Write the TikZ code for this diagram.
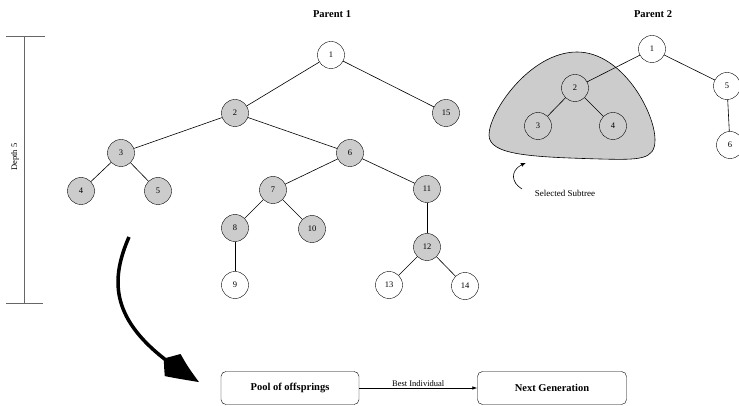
\documentclass[tikz,border=0pt]{standalone}
\usepackage{fontspec}
\setmainfont{Liberation Serif}
\usetikzlibrary{arrows.meta,bending}
\begin{document}
\begin{tikzpicture}[
		x=1pt, y=-1pt,
		vertex/.style={
			draw,
			circle,
			inner sep=0pt,
			minimum size=27pt,
			font=\fontsize{8.5}{10}\selectfont,
			fill=white
		},
		picked/.style={vertex, fill=black!20},
		inblob/.style={vertex, fill=none},
		box/.style={
			draw,
			rounded corners=5pt,
			align=center,
			minimum height=33pt,
			font=\fontsize{10.5}{13}\selectfont\bfseries,
			fill=white
		},
		edge/.style={draw, line width=0.6pt},
		title/.style={font=\fontsize{10.5}{12}\selectfont\bfseries}
		]
		
		\useasboundingbox (0,0) rectangle (739,406);
		
		% Titles
		\node[title] (t1) at (332,14) {Parent 1};
		\node[title] (t2) at (653,14) {Parent 2};
		
		% Depth bar
		\coordinate (dtop) at (24,36);
		\coordinate (dbot) at (24,303);
		\draw[black!60, line width=0.8pt] (6,36) -- (45,36);
		\draw[black!60, line width=0.8pt] (6,303) -- (43,303);
		\draw[black!60, line width=0.8pt] (dtop) -- (dbot);
		\node[rotate=90, font=\fontsize{8.5}{10}\selectfont] (depth) at (15,157) {Depth 5};
		
		% Parent 1 tree
		\node[vertex] (a1) at (331,55) {1};
		\node[picked] (a2) at (235,113) {2};
		\node[picked] (a15) at (446,113) {15};
		\node[picked] (a3) at (121,153) {3};
		\node[picked] (a6) at (350,153) {6};
		\node[picked] (a4) at (81,191) {4};
		\node[picked] (a5) at (158,191) {5};
		\node[picked] (a7) at (273,190) {7};
		\node[picked] (a11) at (427,189) {11};
		\node[picked] (a8) at (235,228) {8};
		\node[picked] (a10) at (312,229) {10};
		\node[picked] (a12) at (427,247) {12};
		\node[vertex] (a9) at (235,285) {9};
		\node[vertex] (a13) at (389,285) {13};
		\node[vertex] (a14) at (465,286) {14};
		
		\foreach \p/\c in {a1/a2, a1/a15, a2/a3, a2/a6, a3/a4, a3/a5,
			a6/a7, a6/a11, a7/a8, a7/a10, a8/a9, a11/a12, a12/a13, a12/a14}
			\draw[edge] (\p) -- (\c);
		
		% Selected subtree blob
		\draw[fill=black!20, line width=0.6pt] (577,52)
			.. controls (530,52) and (489,112) .. (489,135)
			.. controls (489,155) and (530,157) .. (600,159)
			.. controls (640,160) and (655,160) .. (655,140)
			.. controls (655,112) and (622,52) .. (577,52) -- cycle;
		
		% Parent 2 tree
		\node[vertex] (b1) at (652,49) {1};
		\node[inblob] (b2) at (575,88) {2};
		\node[vertex] (b5) at (727,86) {5};
		\node[inblob] (b3) at (538,126) {3};
		\node[inblob] (b4) at (613,126) {4};
		\node[vertex] (b6) at (730,145) {6};
		
		\foreach \p/\c in {b1/b2, b1/b5, b5/b6, b2/b3, b2/b4}
			\draw[edge] (\p) -- (\c);
		
		% Subtree label
		\node[font=\fontsize{9}{11}\selectfont] (sel) at (565,193) {Selected Subtree};
		\coordinate (selfoot) at (522,189);
		\coordinate (seltip) at (526,163);
		\draw[line width=0.6pt, -{Latex[length=5pt,width=4pt,bend]}] (selfoot)
			.. controls (510,182) and (510,168) .. (seltip);
		
		% Bottom boxes
		\node[box, minimum width=138pt] (pool) at (290,388) {Pool of offsprings};
		\node[box, minimum width=149pt] (next) at (552,388) {Next Generation};
		\draw[edge, -{Latex[length=5pt,width=3.5pt]}] (pool) -- (next)
			node[midway, above, font=\fontsize{8.5}{10}\selectfont, inner sep=1.5pt] {Best Individual};
		
		% Big curved arrow
		\coordinate (bstart) at (129,237);
		\coordinate (btip) at (199,382);
		\draw[line width=3.5pt, -{Kite[length=46pt,width=27pt,inset=13pt,bend]}] (bstart)
			.. controls (108,285) and (110,330) .. (btip);
		
	\end{tikzpicture}
\end{document}
